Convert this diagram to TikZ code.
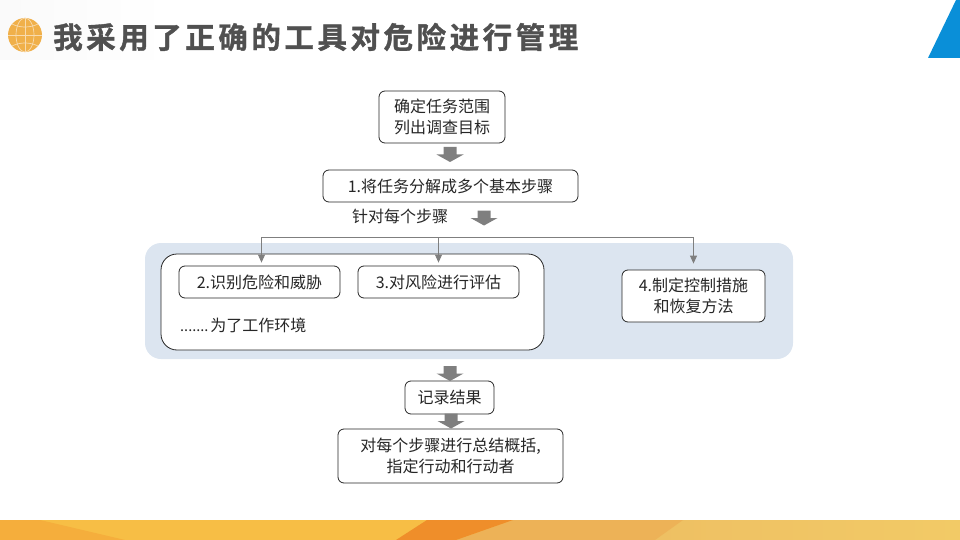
\documentclass[tikz,border=0pt]{standalone}
\usepackage{fontspec}
\setmainfont{Noto Sans CJK SC}
\newfontfamily\titlefont[LetterSpace=12,BoldFont={Noto Sans CJK SC Bold},BoldFeatures={FakeBold=1.2}]{Noto Sans CJK SC}
\usepackage{xcolor}
\usetikzlibrary{arrows.meta}
\definecolor{panelblue}{HTML}{DCE5F0}
\definecolor{arrowgray}{HTML}{7F7F7F}
\definecolor{titlegray}{HTML}{505050}
\definecolor{globeorange}{HTML}{F0B04A}
\definecolor{cornerblue}{HTML}{0A8FD8}
\definecolor{stripbase}{HTML}{F7BE45}
\definecolor{stripleft}{HTML}{F5AE3C}
\definecolor{stripdark}{HTML}{EF8E2A}
\definecolor{stripmid}{HTML}{EDB257}
\definecolor{striplight}{HTML}{EEC063}
\definecolor{stripend}{HTML}{F2CA66}
\tikzset{
  stepbox/.style={draw=black!85, line width=0.8pt, fill=white, rounded corners=6pt, align=center, inner sep=0pt, font=\fontsize{16pt}{21pt}\selectfont, text=black!85},
  plainlabel/.style={anchor=west, inner sep=0pt, text=black!85, font=\fontsize{16pt}{21pt}\selectfont},
  blockarrow/.pic={\fill[arrowgray] (-6.5, -7.5) -- (6.5, -7.5) -- (6.5, 0) -- (13.5, 0) -- (0, 7.5) -- (-13.5, 0) -- (-6.5, 0) -- cycle;},
  busline/.style={draw=arrowgray, line width=0.8pt, -{Triangle[length=8pt,width=7pt]}},
  gridline/.style={draw=globeorange!45!white, line width=0.7pt},
}
\begin{document}
\begin{tikzpicture}[x=1pt, y=-1pt]
    \useasboundingbox (0, 0) rectangle (960, 540);

    % header and footer
    \fill[left color=black!2, right color=white] (0, 0) rectangle (170, 60);
    \fill[cornerblue] (956, 0) -- (960, 0) -- (960, 58) -- (928, 58) -- cycle;
    \fill[globeorange] (25, 35) circle (17);
    \draw[gridline] (25, 18) -- (25, 52) (8, 35) -- (42, 35);
    \draw[gridline] (25, 35) ellipse (9 and 17);
    \draw[gridline] (12, 24) .. controls (20, 28) and (30, 28) .. (38, 24);
    \draw[gridline] (12, 46) .. controls (20, 42) and (30, 42) .. (38, 46);
    \node[anchor=west, inner sep=0pt, text=titlegray, font=\titlefont\bfseries\fontsize{29.5pt}{32pt}\selectfont] at (53, 37) (title) {我采用了正确的工具对危险进行管理};

    \fill[stripbase] (0, 520) rectangle (513, 540);
    \fill[left color=striplight, right color=stripend] (655, 520) rectangle (960, 540);
    \fill[stripleft] (0, 520) -- (40, 520) -- (125, 540) -- (0, 540) -- cycle;
    \fill[stripmid] (513, 520) -- (683, 520) -- (655, 540) -- (456, 540) -- cycle;
    \fill[stripdark] (427, 520) -- (513, 520) -- (456, 540) -- (396, 540) -- cycle;

    % panel
    \fill[panelblue, rounded corners=16pt] (145, 243) rectangle (793, 359);

    % boxes
    \node[stepbox, minimum width=126pt, minimum height=52pt] at (442, 117) (scope) {确定任务范围\\列出调查目标};
    \node[stepbox, minimum width=255pt, minimum height=32pt] at (450.5, 186) (split) {1.将任务分解成多个基本步骤};
    \node[plainlabel] at (352, 216) (each) {针对每个步骤};
    \node[stepbox, rounded corners=16pt, minimum width=383pt, minimum height=96pt] at (352.5, 302) (work) {};
    \node[stepbox, minimum width=161pt, minimum height=32pt] at (259.5, 282) (identify) {2.识别危险和威胁};
    \node[stepbox, minimum width=161pt, minimum height=32pt] at (438.5, 282) (assess) {3.对风险进行评估};
    \node[plainlabel] at (180, 325) (env) {{\fontsize{14.5pt}{21pt}\selectfont .......}\hspace{2pt}为了工作环境};
    \node[stepbox, minimum width=143pt, minimum height=52pt] at (693.5, 296) (control) {4.制定控制措施\\和恢复方法};
    \node[stepbox, minimum width=89pt, minimum height=33pt] at (449.5, 397.5) (record) {记录结果};
    \node[stepbox, minimum width=225pt, minimum height=54pt] at (450.5, 456) (summary) {对每个步骤进行总结概括,\\指定行动和行动者};

    % block arrows
    \pic at (450, 154.5) {blockarrow};
    \pic at (484, 218) {blockarrow};
    \pic at (450, 373.5) {blockarrow};
    \pic at (451, 421) {blockarrow};

    % bus
    \coordinate (busl) at (261.5, 237);
    \coordinate (busm) at (438.5, 237);
    \coordinate (busr) at (693.5, 237);
    \draw[draw=arrowgray, line width=0.8pt] (busl) -- (busr);
    \draw[busline, shorten >=3pt] (busl) -- (busl |- identify.north);
    \draw[busline, shorten >=3pt] (busm) -- (assess.north);
    \draw[busline, shorten >=6pt] (busr) -- (control.north);
\end{tikzpicture}
\end{document}
